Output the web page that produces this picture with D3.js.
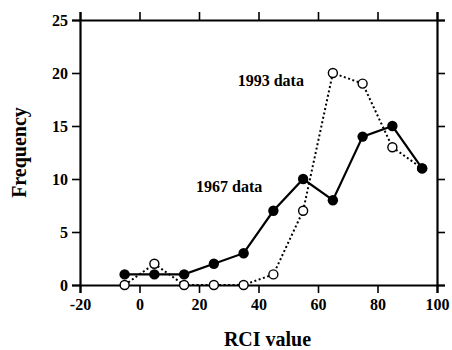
<!DOCTYPE html>
<html>
<head>
<meta charset="utf-8">
<script src="https://cdn.jsdelivr.net/npm/d3@7"></script>
<style>
  body { margin: 0; background: #fff; }
  svg { display: block; }
  text { font-family: "Liberation Serif", "Times New Roman", serif; font-weight: bold; fill: #000; }
</style>
</head>
<body>
<svg id="chart" width="452" height="350"></svg>
<script>
// data
const rciBins = [-5, 5, 15, 25, 35, 45, 55, 65, 75, 85, 95];
const freq1967 = [1, 1, 1, 2, 3, 7, 10, 8, 14, 15, 11];
const freq1993 = [0, 2, 0, 0, 0, 1, 7, 20, 19, 13, 11];
const xTicks = [-20, 0, 20, 40, 60, 80, 100];
const yTicks = [0, 5, 10, 15, 20, 25];

const svg = d3.select("#chart");
const m = {top: 20, right: 15, bottom: 65, left: 80};
const W = 452, H = 350;

const x = d3.scaleLinear().domain([-20, 100]).range([m.left, W - m.right]);
const y = d3.scaleLinear().domain([0, 25]).range([H - m.bottom, m.top]);

// frame axes, ticks pointing outward
const tickLen = 8;
svg.append("g").attr("transform", `translate(0,${y(0)})`)
    .call(d3.axisBottom(x).tickValues(xTicks).tickSize(tickLen).tickPadding(6).tickFormat(d => String(d)))
    .call(g => g.selectAll("text").attr("font-size", 16));
svg.append("g").attr("transform", `translate(0,${y(25)})`)
    .call(d3.axisTop(x).tickValues(xTicks).tickSize(tickLen).tickFormat(""));
svg.append("g").attr("transform", `translate(${x(-20)},0)`)
    .call(d3.axisLeft(y).tickValues(yTicks).tickSize(tickLen).tickPadding(4).tickFormat(d => String(d)))
    .call(g => g.selectAll("text").attr("font-size", 16));
svg.append("g").attr("transform", `translate(${x(100)},0)`)
    .call(d3.axisRight(y).tickValues(yTicks).tickSize(tickLen).tickFormat(""));

svg.selectAll(".domain").attr("stroke", "#000").attr("stroke-width", 2.2);
svg.selectAll(".tick line").attr("stroke", "#000").attr("stroke-width", 1.6);
svg.selectAll(".tick text").attr("font-family", "Liberation Serif, serif").attr("font-weight", "bold").attr("fill", "#000");

const pts = (vals) => rciBins.map((r, i) => ({r, v: vals[i]}));
const line = d3.line().x(d => x(d.r)).y(d => y(d.v));

// 1993 (dotted, open circles)
svg.append("path").datum(pts(freq1993))
    .attr("d", line).attr("fill", "none").attr("stroke", "#000")
    .attr("stroke-width", 2).attr("stroke-dasharray", "2 2.5");

// 1967 (solid, filled circles)
svg.append("path").datum(pts(freq1967))
    .attr("d", line).attr("fill", "none").attr("stroke", "#000")
    .attr("stroke-width", 2.2);

svg.selectAll(".open").data(pts(freq1993)).join("circle")
    .attr("class", "open")
    .attr("cx", d => x(d.r)).attr("cy", d => y(d.v)).attr("r", 4.5)
    .attr("fill", "#fff").attr("stroke", "#000").attr("stroke-width", 1.4);

svg.selectAll(".filled").data(pts(freq1967)).join("circle")
    .attr("class", "filled")
    .attr("cx", d => x(d.r)).attr("cy", d => y(d.v)).attr("r", 5.2)
    .attr("fill", "#000");

// series labels
svg.append("text").attr("x", x(33)).attr("y", y(18.8)).attr("font-size", 16).text("1993 data");
svg.append("text").attr("x", x(19)).attr("y", y(8.8)).attr("font-size", 16).text("1967 data");

// axis titles
svg.append("text").attr("x", (x(-20) + x(100)) / 2 + 9).attr("y", 346)
    .attr("text-anchor", "middle").attr("font-size", 20).text("RCI value");
svg.append("text").attr("transform", `translate(26,${(y(0) + y(25)) / 2}) rotate(-90)`)
    .attr("text-anchor", "middle").attr("font-size", 20).text("Frequency");
</script>
</body>
</html>
